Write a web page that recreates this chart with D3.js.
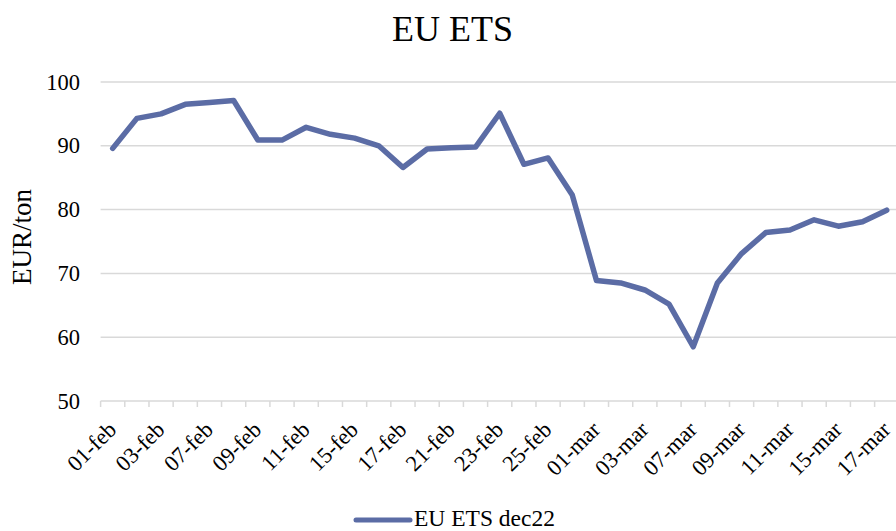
<!DOCTYPE html>
<html>
<head>
<meta charset="utf-8">
<script src="https://cdn.jsdelivr.net/npm/d3@7"></script>
<style>
  html, body { margin: 0; padding: 0; background: #fff; }
  svg { display: block; font-family: "Liberation Serif", "Times New Roman", serif; }
</style>
</head>
<body>
<svg id="chart" width="896" height="531"></svg>
<script>
const dates = ["01-feb","02-feb","03-feb","04-feb","07-feb","08-feb","09-feb","10-feb","11-feb",
  "14-feb","15-feb","16-feb","17-feb","18-feb","21-feb","22-feb","23-feb","24-feb","25-feb","28-feb",
  "01-mar","02-mar","03-mar","04-mar","07-mar","08-mar","09-mar","10-mar","11-mar","14-mar","15-mar","16-mar","17-mar"];
const values = [89.6, 94.3, 95.0, 96.5, 96.8, 97.1, 90.9, 90.9, 92.9, 91.8, 91.2, 90.0,
  86.6, 89.5, 89.7, 89.8, 95.1, 87.1, 88.1, 82.3, 68.9, 68.5, 67.4, 65.2, 58.5, 68.5,
  73.1, 76.4, 76.8, 78.4, 77.4, 78.1, 79.9];
const yTicks = [50, 60, 70, 80, 90, 100];
const title = "EU ETS";
const yTitle = "EUR/ton";
const seriesName = "EU ETS dec22";

(function () {
const svg = d3.select("#chart");
const pLeft = 100.6, pRight = 898.8, pTop = 82, pBottom = 401;
const x = d3.scaleBand().domain(dates).range([pLeft, pRight]).padding(0);
const y = d3.scaleLinear().domain([50, 100]).range([pBottom, pTop]);
const color = "#5b6ca5";
const gridColor = "#d9d9d9";

// gridlines
svg.append("g").selectAll("line").data(yTicks.filter(d => d > 50)).join("line")
  .attr("x1", pLeft).attr("x2", 896)
  .attr("y1", d => y(d)).attr("y2", d => y(d))
  .attr("stroke", gridColor).attr("stroke-width", 1.5);

// y labels
svg.append("g").selectAll("text").data(yTicks).join("text")
  .attr("x", 80).attr("y", d => y(d) + 7.5)
  .attr("text-anchor", "end").attr("font-size", 22.5).attr("fill", "#000")
  .text(d => d);

// x axis
const xAxis = svg.append("g");
xAxis.append("line").attr("x1", pLeft).attr("x2", 896).attr("y1", pBottom).attr("y2", pBottom)
  .attr("stroke", gridColor).attr("stroke-width", 1.5);
xAxis.selectAll("line.tick").data(dates.concat(["__end"])).join("line").attr("class", "tick")
  .attr("x1", (d, i) => pLeft + i * x.bandwidth()).attr("x2", (d, i) => pLeft + i * x.bandwidth())
  .attr("y1", pBottom).attr("y2", pBottom + 6)
  .attr("stroke", gridColor).attr("stroke-width", 1.5);

const labelDates = dates.filter((d, i) => i % 2 === 0);
xAxis.selectAll("text").data(labelDates).join("text")
  .attr("transform", d => `translate(${x(d) + x.bandwidth() / 2 + 5},${pBottom + 30}) rotate(-45)`)
  .attr("text-anchor", "end").attr("font-size", 22.5).attr("fill", "#000")
  .text(d => d);

// line
const line = d3.line().x((d, i) => x(dates[i]) + x.bandwidth() / 2).y(d => y(d));
svg.append("path").datum(values).attr("d", line)
  .attr("fill", "none").attr("stroke", color).attr("stroke-width", 5.5)
  .attr("stroke-linejoin", "round").attr("stroke-linecap", "round");

// title
svg.append("text").attr("x", 452.5).attr("y", 41).attr("text-anchor", "middle")
  .attr("font-size", 36).attr("fill", "#000").text(title);

// y title
svg.append("text").attr("transform", "translate(31,237) rotate(-90)")
  .attr("text-anchor", "middle").attr("font-size", 27).attr("fill", "#000").text(yTitle);

// legend
const lg = svg.append("g");
lg.append("line").attr("x1", 356).attr("x2", 410).attr("y1", 520).attr("y2", 520)
  .attr("stroke", color).attr("stroke-width", 5).attr("stroke-linecap", "round");
lg.append("text").attr("x", 414).attr("y", 526).attr("font-size", 23.5).attr("fill", "#000").text(seriesName);
})();
</script>
</body>
</html>
